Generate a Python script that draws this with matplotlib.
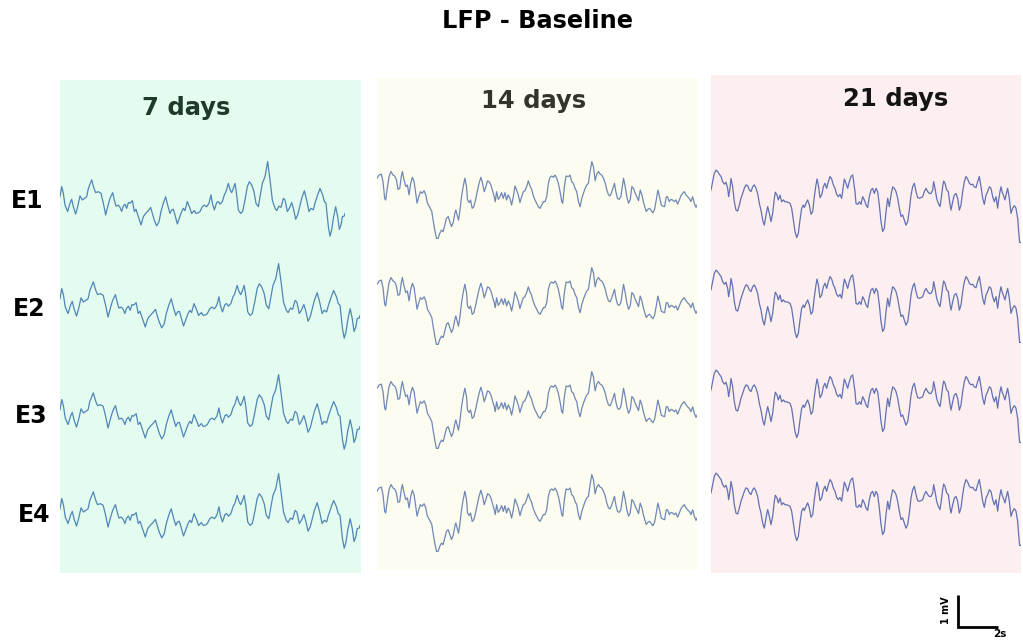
import numpy as np
import matplotlib
matplotlib.use("Agg")
import matplotlib.pyplot as plt

# ---------------------------------------------------------------- data
FS = 60.0  # samples per second of the displayed LFP excerpts

electrodes = ["E1", "E2", "E3", "E4"]
conditions = ["7 days", "14 days", "21 days"]

# 7 days: sample index and amplitude (mV)
idx_7 = [15, 20, 25, 30, 38, 45, 50, 55, 62, 68,
         75, 82, 88, 95, 100, 110, 117, 122, 130, 138,
         145, 152, 158, 165, 173, 178, 183, 190, 195, 200,
         205, 210, 215, 220, 225, 232, 238, 243, 250, 258,
         265, 272, 280, 287, 292, 298, 305, 312, 318, 325,
         332, 338, 345, 350, 355, 360, 367, 373, 380, 385,
         390, 397, 405, 410, 418, 423, 430, 435, 442, 448,
         455, 462, 468, 472, 478, 485, 490, 495, 502, 508,
         513, 520, 525, 530, 535, 540, 545, 550, 557, 563,
         570, 577, 583, 590, 597, 603, 610, 617, 622, 630,
         638, 645, 652, 660, 665, 672, 678, 685, 690, 697,
         703, 710, 715, 722, 728, 735, 740, 748, 755, 762,
         768, 775, 780, 788, 795, 803, 808, 813, 820, 825,
         830, 835, 842, 848, 853, 858, 862, 868, 870]
lfp_7 = [0.10, 0.42, 0.21, -0.16, -0.36, -0.10, 0.02, -0.21, -0.44, -0.21,
         0.13, 0.00, 0.05, 0.10, 0.36, 0.63, 0.36, 0.23, 0.26, 0.21,
         -0.10, -0.47, -0.21, 0.05, 0.23, 0.00, -0.19, -0.16, -0.23, -0.36,
         -0.19, -0.13, -0.26, -0.08, -0.10, -0.02, -0.36, -0.29, -0.52, -0.78,
         -0.52, -0.42, -0.33, -0.23, -0.42, -0.63, -0.81, -0.68, -0.36, -0.10,
         0.10, -0.16, -0.42, -0.31, -0.29, -0.47, -0.75, -0.57, -0.36, -0.26,
         -0.33, -0.05, -0.26, -0.42, -0.33, -0.42, -0.40, -0.36, -0.21, -0.16,
         -0.21, -0.10, 0.16, -0.10, -0.31, -0.08, -0.05, -0.13, -0.05, 0.16,
         0.26, 0.52, 0.33, 0.23, 0.36, 0.52, 0.16, -0.31, -0.42, -0.36,
         0.00, 0.42, 0.57, 0.47, 0.26, -0.10, -0.21, 0.21, 0.52, 0.73,
         1.20, 0.63, 0.00, -0.26, -0.33, -0.19, -0.23, 0.05, 0.00, -0.36,
         -0.26, -0.08, -0.26, -0.60, -0.47, -0.16, 0.05, 0.29, 0.00, -0.36,
         -0.26, -0.31, -0.10, 0.16, 0.36, 0.16, -0.05, -0.10, -0.83, -1.13,
         -0.94, -0.57, -0.21, -0.52, -0.92, -0.78, -0.52, -0.50, -0.42]

# 14 days
idx_14 = [22, 28, 35, 40, 45, 48, 52, 58, 64, 70,
          75, 80, 85, 90, 95, 98, 103, 108, 113, 118,
          123, 128, 133, 138, 142, 147, 152, 157, 163, 168,
          173, 180, 186, 190, 195, 200, 205, 210, 215, 220,
          225, 230, 235, 240, 245, 250, 255, 258, 262, 266,
          270, 275, 280, 285, 290, 293, 298, 302, 307, 312,
          318, 323, 328, 333, 338, 343, 348, 353, 358, 363,
          368, 373, 376, 380, 385, 390, 395, 400, 405, 410,
          415, 420, 425, 430, 435, 440, 445, 450, 455, 460,
          465, 470, 475, 480, 485, 490, 495, 500, 505, 510,
          515, 520, 525, 530, 535, 540, 545, 550, 555, 560,
          565, 570, 575, 578, 583, 588, 595, 600, 605, 610,
          615, 620, 625, 630, 635, 640, 645, 650, 655, 660,
          665, 670, 675, 680, 685, 690, 695, 700, 705, 710,
          715, 720, 725, 730, 733, 737, 742, 747, 752, 757,
          760, 765, 770, 775, 780, 785, 790, 795, 800, 805,
          810, 815, 820, 825, 828, 833, 838, 843, 848, 853,
          858, 863, 868, 873, 878, 883, 888, 892, 897, 902,
          907, 912, 917, 922, 927, 932, 937, 942, 947, 952,
          957, 962, 967, 972, 977, 980]
lfp_14 = [0.68, 0.78, 0.81, 0.57, 0.05, 0.00, 0.31, 0.73, 0.89, 0.78,
          0.75, 0.63, 0.33, 0.36, 0.75, 0.89, 0.63, 0.42, 0.47, 0.16,
          0.52, 0.71, 0.57, 0.21, -0.10, 0.10, 0.26, 0.21, 0.29, 0.16,
          -0.10, -0.23, -0.36, -0.63, -0.94, -1.20, -1.20, -1.04, -0.94, -0.99,
          -0.78, -0.57, -0.52, -0.68, -0.83, -0.71, -0.42, -0.31, -0.47, -0.63,
          -0.36, 0.10, 0.42, 0.68, 0.42, 0.00, -0.08, 0.00, -0.26, -0.21,
          0.05, 0.31, 0.54, 0.71, 0.52, 0.26, 0.42, 0.60, 0.57, 0.47,
          0.29, 0.10, -0.05, 0.26, 0.02, 0.10, 0.23, 0.05, 0.23, 0.00,
          0.16, 0.05, -0.16, 0.10, 0.44, 0.31, 0.16, -0.08, 0.10, 0.26,
          0.29, 0.42, 0.60, 0.44, 0.33, 0.13, 0.00, -0.10, -0.21, -0.26,
          -0.16, -0.05, -0.05, 0.10, 0.52, 0.71, 0.75, 0.71, 0.78, 0.68,
          0.52, 0.26, -0.05, -0.10, 0.42, 0.75, 0.73, 0.78, 0.57, 0.52,
          0.36, 0.26, -0.05, -0.21, 0.05, 0.21, 0.36, 0.47, 0.52, 0.89,
          1.20, 1.04, 0.60, 0.81, 0.89, 0.81, 0.78, 0.68, 0.54, 0.31,
          0.16, 0.13, 0.26, 0.42, 0.52, 0.26, 0.05, 0.02, 0.10, 0.47,
          0.68, 0.42, 0.10, -0.10, 0.00, 0.42, 0.36, 0.21, 0.10, -0.02,
          0.31, 0.16, -0.08, -0.26, -0.36, -0.29, -0.26, -0.33, -0.40, -0.29,
          0.00, 0.31, 0.10, -0.16, -0.19, -0.21, 0.10, 0.10, -0.05, 0.02,
          0.00, -0.05, 0.00, -0.13, 0.00, 0.13, 0.21, 0.26, 0.16, 0.10,
          0.05, -0.05, 0.10, -0.10, -0.23, -0.16]

# 21 days
idx_21 = [20, 25, 30, 35, 40, 45, 50, 55, 60, 65,
          70, 73, 77, 80, 85, 90, 95, 100, 105, 110,
          115, 120, 125, 130, 135, 140, 145, 150, 155, 160,
          165, 170, 175, 180, 185, 190, 195, 200, 205, 210,
          213, 218, 222, 227, 232, 237, 242, 247, 252, 257,
          262, 267, 272, 277, 282, 287, 292, 297, 300, 305,
          310, 315, 320, 325, 330, 335, 338, 342, 347, 352,
          357, 362, 367, 372, 377, 382, 387, 392, 397, 402,
          407, 412, 417, 420, 425, 430, 435, 440, 445, 448,
          452, 455, 460, 465, 470, 475, 480, 485, 490, 495,
          500, 505, 510, 515, 520, 525, 530, 535, 540, 545,
          550, 555, 560, 565, 570, 575, 580, 585, 590, 595,
          600, 605, 610, 615, 620, 625, 630, 635, 640, 645,
          650, 655, 660, 665, 670, 675, 680, 685, 688, 692,
          697, 702, 707, 710, 715, 718, 722, 727, 732, 737,
          740, 745, 750, 755, 760, 765, 770, 775, 780, 785,
          790, 795, 800, 805, 810, 815, 820, 825, 830, 835,
          840, 845, 850, 855, 860, 865, 870, 875, 880, 883,
          887, 890, 893, 897, 902, 905, 910, 915, 920, 925,
          930, 935, 940, 943, 946, 950]
lfp_21 = [0.47, 0.73, 0.99, 1.09, 1.04, 0.96, 0.89, 0.73, 0.65, 0.71,
          0.52, 0.26, 0.52, 0.83, 0.57, 0.10, -0.16, -0.19, 0.00, 0.21,
          0.36, 0.52, 0.63, 0.60, 0.47, 0.42, 0.57, 0.63, 0.52, 0.36,
          0.05, -0.16, -0.47, -0.63, -0.31, -0.05, -0.26, -0.52, -0.26, 0.21,
          0.40, 0.31, 0.16, 0.31, 0.10, 0.16, 0.10, 0.10, 0.08, 0.05,
          -0.10, -0.47, -0.83, -1.02, -0.89, -0.47, -0.10, 0.00, -0.08, 0.05,
          0.16, 0.00, -0.29, -0.21, 0.26, 0.63, 0.81, 0.63, 0.23, 0.31,
          0.57, 0.68, 0.52, 0.73, 0.89, 0.81, 0.63, 0.52, 0.33, 0.26,
          0.33, 0.21, 0.57, 0.81, 0.68, 0.52, 0.73, 0.89, 0.94, 0.73,
          0.42, 0.05, 0.02, 0.10, 0.02, 0.26, 0.16, 0.00, -0.08, 0.26,
          0.47, 0.52, 0.36, 0.52, 0.42, 0.00, -0.52, -0.83, -0.73, -0.21,
          0.21, -0.05, 0.31, 0.57, 0.52, 0.42, 0.21, -0.10, -0.36, -0.31,
          -0.47, -0.63, -0.52, -0.16, 0.31, 0.57, 0.68, 0.42, 0.23, 0.21,
          0.23, 0.26, 0.42, 0.52, 0.42, 0.36, 0.36, 0.47, 0.73, 0.52,
          0.21, 0.05, -0.05, 0.16, 0.57, 0.75, 0.68, 0.47, 0.42, 0.02,
          -0.16, 0.10, 0.31, 0.36, 0.21, -0.16, 0.00, 0.42, 0.73, 0.89,
          0.81, 0.68, 0.63, 0.65, 0.57, 0.54, 0.73, 0.89, 0.57, 0.21,
          0.02, 0.31, 0.42, 0.57, 0.52, 0.26, 0.10, 0.26, -0.10, 0.16,
          0.42, 0.57, 0.42, 0.31, 0.16, 0.31, 0.52, 0.21, -0.26, -0.10,
          -0.02, -0.10, -0.42, -0.83, -1.17, -1.17]

scale_bar_s = 2.0   # horizontal scale bar (s)
scale_bar_mv = 1.0  # vertical scale bar (mV)

# ---------------------------------------------------------------- layout
W, H = 1023, 641
PX_PER_MV = 32.0
PX_PER_S = 20.0

fig = plt.figure(figsize=(W / 100, H / 100), dpi=100)
fig.patch.set_facecolor("white")
FONT = "DejaVu Sans"


def px_axes(left, top, width, height, **kw):
    return fig.add_axes([left / W, 1 - (top + height) / H, width / W, height / H], **kw)


def fig_text(x, y, s, **kw):
    fig.text(x / W, 1 - y / H, s, **kw)


panels = [
    dict(name=conditions[0], idx=idx_7, lfp=lfp_7,
         box=(60, 80, 301, 493), bg="#e3fcef", line="#4f86b6", title_col="#1e3a2a",
         title_xy=(186, 108), trace_left=60, widths=[285, 300, 300, 300],
         centers=[200, 302, 413, 512]),
    dict(name=conditions[1], idx=idx_14, lfp=lfp_14,
         box=(378, 78, 319, 492), bg="#fcfdf0", line="#7088b5", title_col="#33352a",
         title_xy=(534, 101), trace_left=377, widths=[320, 320, 320, 320],
         centers=[200, 306, 410, 513]),
    dict(name=conditions[2], idx=idx_21, lfp=lfp_21,
         box=(711, 75, 310, 498), bg="#fdeeef", line="#6072b2", title_col="#141414",
         title_xy=(896, 99), trace_left=711, widths=[310, 310, 310, 310],
         centers=[205, 305, 405, 508]),
]

for p in panels:
    bl, bt, bw, bh = p["box"]
    bg = px_axes(bl, bt, bw, bh)
    bg.set_facecolor(p["bg"])
    bg.set_xticks([])
    bg.set_yticks([])
    for sp in bg.spines.values():
        sp.set_visible(False)
    bg.set_zorder(0)

    fig_text(p["title_xy"][0], p["title_xy"][1], p["name"], ha="center", va="center",
             fontsize=17.5, fontweight="bold", color=p["title_col"], family=FONT)

    t = np.asarray(p["idx"], dtype=float) / FS
    v = np.asarray(p["lfp"], dtype=float)
    for k, e in enumerate(electrodes):
        width = p["widths"][k]
        half = 60
        ax = px_axes(p["trace_left"], p["centers"][k] - half, width, 2 * half)
        ax.set_zorder(2)
        ax.patch.set_visible(False)
        ax.plot(t, v, color=p["line"], lw=0.9, solid_joinstyle="round")
        ax.set_xlim(t[0], t[-1])
        ax.set_ylim(-half / PX_PER_MV, half / PX_PER_MV)
        ax.axis("off")

# electrode labels
label_pos = [(27.5, 201), (29.5, 309), (31.5, 416), (34, 515)]
for e, (x, y) in zip(electrodes, label_pos):
    fig_text(x, y, e, ha="center", va="center", fontsize=17, fontweight="bold",
             color="black", family=FONT)

# title
fig_text(537, 21, "LFP - Baseline", ha="center", va="center", fontsize=17.3,
         fontweight="bold", color="black", family=FONT)

# scale bar
sb = px_axes(958, 590, 60, 40)
sb.patch.set_visible(False)
sb.plot([0, 0, scale_bar_s], [scale_bar_mv, 0, 0], color="black", lw=2.0,
        solid_capstyle="butt", solid_joinstyle="miter", clip_on=False)
sb.set_xlim(0, 60 / PX_PER_S)
sb.set_ylim(-3 / PX_PER_MV, (40 - 3) / PX_PER_MV)
sb.axis("off")
fig_text(946, 610, f"{scale_bar_mv:g} mV", ha="center", va="center", rotation=90,
         fontsize=7, fontweight="bold", family=FONT)
fig_text(1000, 634, f"{scale_bar_s:g}s", ha="center", va="center",
         fontsize=7.5, fontweight="bold", family=FONT)

fig.savefig("out.png", dpi=100)
